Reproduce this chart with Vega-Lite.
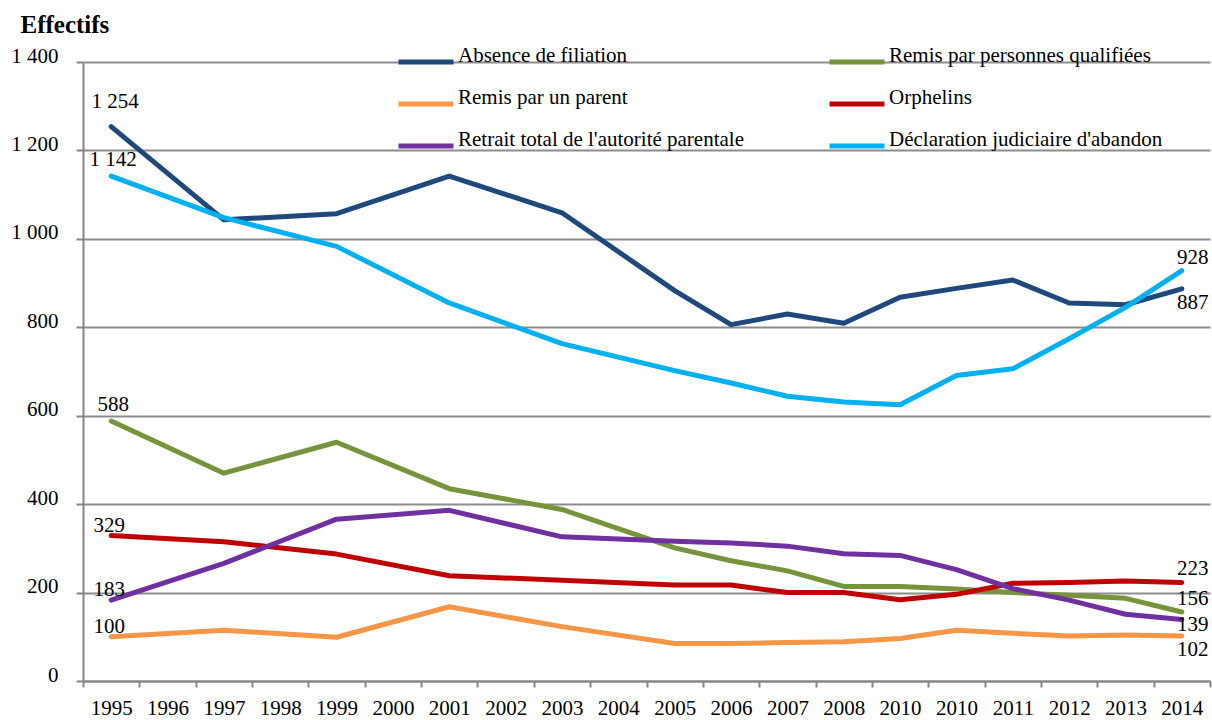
{
  "$schema": "https://vega.github.io/schema/vega-lite/v6.json",
  "width": 1127,
  "height": 619,
  "autosize": {"type": "none"},
  "padding": {"left": 83, "top": 62, "right": 2, "bottom": 39},
  "background": "white",
  "config": {
    "view": {"stroke": null},
    "font": "Liberation Serif",
    "locale": {"number": {"decimal": ",", "thousands": " ", "grouping": [3], "currency": ["", " €"]}}
  },
  "data": {"values": [
    {"yr": 1995, "s": "Absence de filiation", "v": 1254},
    {"yr": 1997, "s": "Absence de filiation", "v": 1043},
    {"yr": 1999, "s": "Absence de filiation", "v": 1057},
    {"yr": 2001, "s": "Absence de filiation", "v": 1142},
    {"yr": 2003, "s": "Absence de filiation", "v": 1059},
    {"yr": 2005, "s": "Absence de filiation", "v": 883},
    {"yr": 2006, "s": "Absence de filiation", "v": 806},
    {"yr": 2007, "s": "Absence de filiation", "v": 830},
    {"yr": 2008, "s": "Absence de filiation", "v": 809},
    {"yr": 2009, "s": "Absence de filiation", "v": 868},
    {"yr": 2010, "s": "Absence de filiation", "v": 888},
    {"yr": 2011, "s": "Absence de filiation", "v": 907},
    {"yr": 2012, "s": "Absence de filiation", "v": 855},
    {"yr": 2013, "s": "Absence de filiation", "v": 851},
    {"yr": 2014, "s": "Absence de filiation", "v": 887},
    {"yr": 1995, "s": "Remis par personnes qualifiées", "v": 588},
    {"yr": 1997, "s": "Remis par personnes qualifiées", "v": 470},
    {"yr": 1999, "s": "Remis par personnes qualifiées", "v": 540},
    {"yr": 2001, "s": "Remis par personnes qualifiées", "v": 435},
    {"yr": 2003, "s": "Remis par personnes qualifiées", "v": 388},
    {"yr": 2005, "s": "Remis par personnes qualifiées", "v": 301},
    {"yr": 2006, "s": "Remis par personnes qualifiées", "v": 272},
    {"yr": 2007, "s": "Remis par personnes qualifiées", "v": 249},
    {"yr": 2008, "s": "Remis par personnes qualifiées", "v": 214},
    {"yr": 2009, "s": "Remis par personnes qualifiées", "v": 214},
    {"yr": 2010, "s": "Remis par personnes qualifiées", "v": 208},
    {"yr": 2011, "s": "Remis par personnes qualifiées", "v": 200},
    {"yr": 2012, "s": "Remis par personnes qualifiées", "v": 194},
    {"yr": 2013, "s": "Remis par personnes qualifiées", "v": 187},
    {"yr": 2014, "s": "Remis par personnes qualifiées", "v": 156},
    {"yr": 1995, "s": "Remis par un parent", "v": 100},
    {"yr": 1997, "s": "Remis par un parent", "v": 115},
    {"yr": 1999, "s": "Remis par un parent", "v": 99},
    {"yr": 2001, "s": "Remis par un parent", "v": 168},
    {"yr": 2003, "s": "Remis par un parent", "v": 123},
    {"yr": 2005, "s": "Remis par un parent", "v": 85},
    {"yr": 2006, "s": "Remis par un parent", "v": 85},
    {"yr": 2007, "s": "Remis par un parent", "v": 87},
    {"yr": 2008, "s": "Remis par un parent", "v": 89},
    {"yr": 2009, "s": "Remis par un parent", "v": 96},
    {"yr": 2010, "s": "Remis par un parent", "v": 115},
    {"yr": 2011, "s": "Remis par un parent", "v": 108},
    {"yr": 2012, "s": "Remis par un parent", "v": 102},
    {"yr": 2013, "s": "Remis par un parent", "v": 104},
    {"yr": 2014, "s": "Remis par un parent", "v": 102},
    {"yr": 1995, "s": "Orphelins", "v": 329},
    {"yr": 1997, "s": "Orphelins", "v": 315},
    {"yr": 1999, "s": "Orphelins", "v": 287},
    {"yr": 2001, "s": "Orphelins", "v": 238},
    {"yr": 2003, "s": "Orphelins", "v": 228},
    {"yr": 2005, "s": "Orphelins", "v": 217},
    {"yr": 2006, "s": "Orphelins", "v": 217},
    {"yr": 2007, "s": "Orphelins", "v": 200},
    {"yr": 2008, "s": "Orphelins", "v": 200},
    {"yr": 2009, "s": "Orphelins", "v": 184},
    {"yr": 2010, "s": "Orphelins", "v": 196},
    {"yr": 2011, "s": "Orphelins", "v": 221},
    {"yr": 2012, "s": "Orphelins", "v": 223},
    {"yr": 2013, "s": "Orphelins", "v": 226},
    {"yr": 2014, "s": "Orphelins", "v": 223},
    {"yr": 1995, "s": "Retrait total de l'autorité parentale", "v": 183},
    {"yr": 1997, "s": "Retrait total de l'autorité parentale", "v": 266},
    {"yr": 1999, "s": "Retrait total de l'autorité parentale", "v": 366},
    {"yr": 2001, "s": "Retrait total de l'autorité parentale", "v": 386},
    {"yr": 2003, "s": "Retrait total de l'autorité parentale", "v": 326},
    {"yr": 2005, "s": "Retrait total de l'autorité parentale", "v": 316},
    {"yr": 2006, "s": "Retrait total de l'autorité parentale", "v": 312},
    {"yr": 2007, "s": "Retrait total de l'autorité parentale", "v": 305},
    {"yr": 2008, "s": "Retrait total de l'autorité parentale", "v": 288},
    {"yr": 2009, "s": "Retrait total de l'autorité parentale", "v": 284},
    {"yr": 2010, "s": "Retrait total de l'autorité parentale", "v": 252},
    {"yr": 2011, "s": "Retrait total de l'autorité parentale", "v": 209},
    {"yr": 2012, "s": "Retrait total de l'autorité parentale", "v": 183},
    {"yr": 2013, "s": "Retrait total de l'autorité parentale", "v": 151},
    {"yr": 2014, "s": "Retrait total de l'autorité parentale", "v": 139},
    {"yr": 1995, "s": "Déclaration judiciaire d'abandon", "v": 1142},
    {"yr": 1997, "s": "Déclaration judiciaire d'abandon", "v": 1048},
    {"yr": 1999, "s": "Déclaration judiciaire d'abandon", "v": 983},
    {"yr": 2001, "s": "Déclaration judiciaire d'abandon", "v": 855},
    {"yr": 2003, "s": "Déclaration judiciaire d'abandon", "v": 763},
    {"yr": 2005, "s": "Déclaration judiciaire d'abandon", "v": 702},
    {"yr": 2006, "s": "Déclaration judiciaire d'abandon", "v": 674},
    {"yr": 2007, "s": "Déclaration judiciaire d'abandon", "v": 644},
    {"yr": 2008, "s": "Déclaration judiciaire d'abandon", "v": 631},
    {"yr": 2009, "s": "Déclaration judiciaire d'abandon", "v": 625},
    {"yr": 2010, "s": "Déclaration judiciaire d'abandon", "v": 691},
    {"yr": 2011, "s": "Déclaration judiciaire d'abandon", "v": 706},
    {"yr": 2012, "s": "Déclaration judiciaire d'abandon", "v": 774},
    {"yr": 2013, "s": "Déclaration judiciaire d'abandon", "v": 845},
    {"yr": 2014, "s": "Déclaration judiciaire d'abandon", "v": 928}
  ]},
  "encoding": {
    "x": {
      "field": "yr", "type": "ordinal", "bandPosition": 0.5,
      "scale": {"type": "band", "paddingInner": 0, "paddingOuter": 0,
        "domain": [1995,1996,1997,1998,1999,2000,2001,2002,2003,2004,2005,2006,2007,2008,2009,2010,2011,2012,2013,2014]},
      "axis": {
        "title": null, "labelAngle": 0, "tickBand": "extent", "tickSize": 6,
        "labelExpr": "datum.value == 2009 ? '2010' : datum.label",
        "labelFont": "Liberation Serif", "labelFontSize": 21, "labelColor": "#000000",
        "labelPadding": 10, "domainColor": "#868686", "domainWidth": 2,
        "tickColor": "#868686", "tickWidth": 2, "grid": false
      }
    },
    "y": {
      "field": "v", "type": "quantitative",
      "scale": {"domain": [0, 1400], "nice": false, "zero": true},
      "axis": {
        "values": [0, 200, 400, 600, 800, 1000, 1200, 1400],
        "format": ",d",
        "title": "Effectifs", "titleAngle": 0, "titleAlign": "left", "titleBaseline": "alphabetic",
        "titleX": -63, "titleY": -30, "titleFont": "Liberation Serif", "titleFontSize": 25,
        "titleFontWeight": "bold", "titleColor": "#000000",
        "labelFont": "Liberation Serif", "labelFontSize": 21, "labelColor": "#000000",
        "labelBaseline": "alphabetic", "labelPadding": 18, "tickSize": 7,
        "tickColor": "#868686", "tickWidth": 2, "domainColor": "#868686", "domainWidth": 2,
        "grid": true, "gridColor": "#8c8c8c", "gridWidth": 2
      }
    }
  },
  "layer": [
    {
      "mark": {"type": "line", "strokeWidth": 5, "strokeCap": "round", "strokeJoin": "round"},
      "encoding": {
        "color": {
          "field": "s", "type": "nominal",
          "scale": {
            "domain": ["Absence de filiation", "Remis par un parent", "Retrait total de l'autorité parentale", "Remis par personnes qualifiées", "Orphelins", "Déclaration judiciaire d'abandon"],
            "range": ["#1F497D", "#F79646", "#7030A0", "#77933C", "#C00000", "#00B0F0"]
          },
          "legend": {
            "title": null, "orient": "none", "legendX": 313, "legendY": -30, "columns": 2,
            "symbolType": "stroke", "symbolSize": 3025, "symbolStrokeWidth": 5,
            "labelFont": "Liberation Serif", "labelFontSize": 21, "labelColor": "#000000",
            "labelBaseline": "alphabetic", "labelOffset": 2, "columnPadding": 75, "rowPadding": 2,
            "labelLimit": 400, "padding": 0
          }
        }
      }
    },
    {
      "transform": [{"filter": "datum.yr == 1995 && datum.s == 'Absence de filiation'"}],
      "mark": {"type": "text", "font": "Liberation Serif", "fontSize": 21, "color": "#000000", "baseline": "alphabetic", "align": "center", "dx": 4, "dy": -19},
      "encoding": {"text": {"field": "v", "type": "quantitative", "format": ",d"}}
    },
    {
      "transform": [{"filter": "datum.yr == 1995 && (datum.s == 'Déclaration judiciaire d\\'abandon' || datum.s == 'Remis par personnes qualifiées')"}],
      "mark": {"type": "text", "font": "Liberation Serif", "fontSize": 21, "color": "#000000", "baseline": "alphabetic", "align": "center", "dx": 2, "dy": -10},
      "encoding": {"text": {"field": "v", "type": "quantitative", "format": ",d"}}
    },
    {
      "transform": [{"filter": "datum.yr == 1995 && (datum.s == 'Orphelins' || datum.s == 'Retrait total de l\\'autorité parentale' || datum.s == 'Remis par un parent')"}],
      "mark": {"type": "text", "font": "Liberation Serif", "fontSize": 21, "color": "#000000", "baseline": "alphabetic", "align": "center", "dx": -2, "dy": -4},
      "encoding": {"text": {"field": "v", "type": "quantitative", "format": ",d"}}
    },
    {
      "transform": [{"filter": "datum.yr == 2014 && (datum.s == 'Déclaration judiciaire d\\'abandon' || datum.s == 'Remis par personnes qualifiées' || datum.s == 'Orphelins')"}],
      "mark": {"type": "text", "font": "Liberation Serif", "fontSize": 21, "color": "#000000", "baseline": "alphabetic", "align": "center", "dx": 11, "dy": -7},
      "encoding": {"text": {"field": "v", "type": "quantitative", "format": ",d"}}
    },
    {
      "transform": [{"filter": "datum.yr == 2014 && (datum.s == 'Absence de filiation' || datum.s == 'Remis par un parent')"}],
      "mark": {"type": "text", "font": "Liberation Serif", "fontSize": 21, "color": "#000000", "baseline": "alphabetic", "align": "center", "dx": 11, "dy": 20},
      "encoding": {"text": {"field": "v", "type": "quantitative", "format": ",d"}}
    },
    {
      "transform": [{"filter": "datum.yr == 2014 && datum.s == 'Retrait total de l\\'autorité parentale'"}],
      "mark": {"type": "text", "font": "Liberation Serif", "fontSize": 21, "color": "#000000", "baseline": "alphabetic", "align": "center", "dx": 11, "dy": 11},
      "encoding": {"text": {"field": "v", "type": "quantitative", "format": ",d"}}
    }
  ]
}
